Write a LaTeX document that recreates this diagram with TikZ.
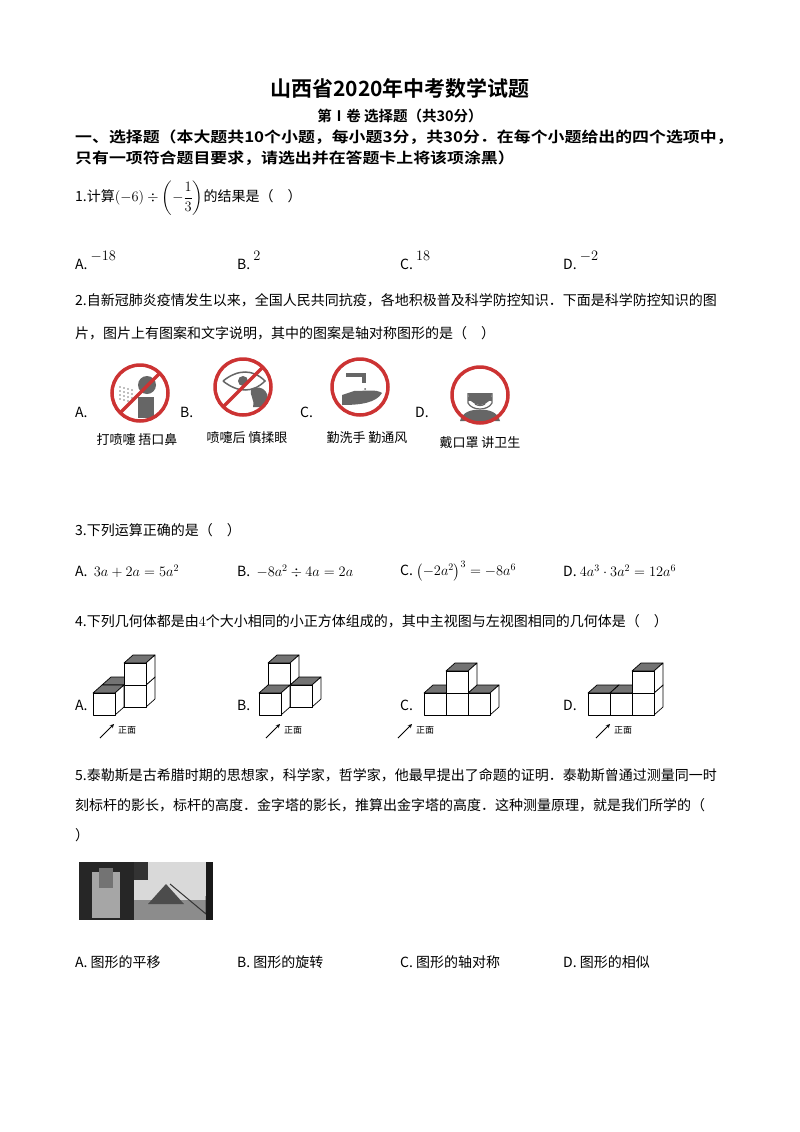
\documentclass[tikz,border=0pt]{standalone}
\usepackage{amsmath}
\usepackage{graphicx}
\usepackage{fontspec}
\setmainfont{Noto Sans CJK SC}
\newfontfamily\cjkb{Noto Sans CJK SC Bold}
\tikzset{
  txt/.style={anchor=west,inner sep=0pt,font=\fontsize{14}{16}\selectfont},
  hd/.style={anchor=west,inner sep=0pt,font=\cjkb\fontsize{14.7}{16}\selectfont},
  lab/.style={inner sep=0pt,font=\fontsize{13}{15}\selectfont},
  sign/.style={draw=red!75!black!80,line width=3.5pt},
  sil/.style={fill=black!60,draw=none},
  cb/.style={draw=black,line width=0.7pt,line join=round}
}
\newcommand{\mycube}[5]{% ox oy col depth level
  \pgfmathsetmacro{\bx}{#1+#3*22+#4*9}
  \pgfmathsetmacro{\by}{#2-#5*22-#4*8}
  \draw[cb,fill=black!55] (\bx,\by-22) -- ++(9,-8) -- ++(22,0) -- ++(-9,8) -- cycle;
  \draw[cb,fill=white] (\bx+22,\by) -- ++(9,-8) -- ++(0,-22) -- ++(-9,8) -- cycle;
  \draw[cb,fill=white] (\bx,\by) rectangle ++(22,-22);
}
\newcommand{\zm}[2]{% arrow + label
  \draw[-stealth,line width=0.8pt] (#1,#2) -- ++(14,-14);
  \node[lab,font=\fontsize{9}{10}\selectfont,anchor=west] at (#1+18,#2-8) {正面};
}
\begin{document}
\begin{tikzpicture}[x=1pt,y=-1pt]
\fill[white] (0,0) rectangle (800,1132);
\useasboundingbox (0,0) rectangle (800,1132);
\node[inner sep=0pt,font=\cjkb\fontsize{21}{23}\selectfont] (title) at (400,88) {山西省2020年中考数学试题};
\node[inner sep=0pt,font=\cjkb\fontsize{14.5}{16}\selectfont] (sub) at (400,116) {第Ⅰ卷\ 选择题（共30分）};
\node[hd] (h1) at (75,137) {\scalebox{1.15}[1]{一、选择题（本大题共10个小题，每小题3分，共30分．在每个小题给出的四个选项中，}};
\node[hd] (h2) at (75,158) {\scalebox{1.15}[1]{只有一项符合题目要求，请选出并在答题卡上将该项涂黑）}};
% Q1
\node[txt] (q1) at (75,198) {1.计算$(-6)\div\left(-\dfrac{1}{3}\right)$的结果是（\quad）};
\node[txt] (q1a) at (75,260) {A. \raisebox{9pt}{$-18$}};
\node[txt] (q1b) at (237,260) {B. \raisebox{9pt}{$2$}};
\node[txt] (q1c) at (400,260) {C. \raisebox{9pt}{$18$}};
\node[txt] (q1d) at (563,260) {D. \raisebox{9pt}{$-2$}};
% Q2
\node[txt] (q2a) at (75,300) {2.自新冠肺炎疫情发生以来，全国人民共同抗疫，各地积极普及科学防控知识．下面是科学防控知识的图};
\node[txt] (q2b) at (75,333) {片，图片上有图案和文字说明，其中的图案是轴对称图形的是（\quad）};
\node[txt] (la) at (75,412) {A.};
\node[txt] (lb) at (180,412) {B.};
\node[txt] (lc) at (300,412) {C.};
\node[txt] (ld) at (415,412) {D.};
% icon A
\begin{scope}[shift={(140,393)}]
 \fill[sil] (7,-8) circle (9);
 \fill[sil] (-2,4) rectangle (14,25) ;
 \foreach \i in {0,...,3}{\foreach \j in {0,...,3}{\fill[black!50] (-20+\i*4,-6+\j*4+\i) circle (0.8);}}
 \draw[sign] (0,0) circle (28);
 \draw[sign] (-20,20) -- (20,-20);
\end{scope}
\node[lab] (ta) at (137,440) {打喷嚏\ 捂口鼻};
% icon B
\begin{scope}[shift={(243,387)}]
 \draw[black!60,line width=1.5pt] (-20,-6) .. controls (-5,-18) and (10,-18) .. (22,-6) .. controls (10,6) and (-5,6) .. (-20,-6);
 \fill[sil] (0,-6) circle (5);
 \fill[sil] (8,2) .. controls (20,-4) and (30,8) .. (22,20) -- (10,20) .. controls (12,12) and (6,8) .. (8,2);
 \draw[sign] (0,0) circle (28);
 \draw[sign] (-20,20) -- (20,-20);
\end{scope}
\node[lab] (tb) at (247,438) {喷嚏后\ 慎揉眼};
% icon C
\begin{scope}[shift={(360,387)}]
 \draw[black!60,line width=4pt] (-14,-12) -- (4,-12) -- (4,-4);
 \fill[black!60] (5,2) circle (1);
 \fill[sil] (-18,8) -- (-6,4) .. controls (6,4) and (16,2) .. (22,6) .. controls (16,16) and (0,18) .. (-18,18) -- cycle;
 \draw[sign] (0,0) circle (28);
\end{scope}
\node[lab] (tc) at (367,438) {勤洗手\ 勤通风};
% icon D
\begin{scope}[shift={(480,395)}]
 \fill[sil] (-12,-2) arc (180:0:12) -- cycle;
 \draw[black!60,line width=1.2pt] (-12,-2) -- (-12,8) .. controls (-8,16) and (8,16) .. (12,8) -- (12,-2);
 \fill[black!60] (-12,2) rectangle (12,6);
 \draw[black!60,line width=1.2pt] (-5,9) .. controls (-2,11) and (2,11) .. (5,9);
 \fill[sil] (-20,26) .. controls (-18,17) and (-8,14) .. (0,15) .. controls (8,14) and (18,17) .. (20,26) -- cycle;
 \draw[sign] (0,0) circle (28);
\end{scope}
\node[lab] (td) at (480,443) {戴口罩\ 讲卫生};
% Q3
\node[txt] (q3) at (75,530) {3.下列运算正确的是（\quad）};
\node[txt] (q3a) at (75,571) {A.\ \ $3a+2a=5a^2$};
\node[txt] (q3b) at (237,571) {B.\ \ $-8a^2\div 4a=2a$};
\node[txt] (q3c) at (400,571) {C.\ $\left(-2a^2\right)^3=-8a^6$};
\node[txt] (q3d) at (563,571) {D.\ $4a^3\cdot 3a^2=12a^6$};
% Q4
\node[txt] (q4) at (75,621) {4.下列几何体都是由$4$个大小相同的小正方体组成的，其中主视图与左视图相同的几何体是（\quad）};
\node[txt] (c4a) at (75,705) {A.};
\node[txt] (c4b) at (237,705) {B.};
\node[txt] (c4c) at (400,705) {C.};
\node[txt] (c4d) at (563,705) {D.};
\mycube{93}{715}{0}{1}{0}
\mycube{93}{715}{1}{1}{0}
\mycube{93}{715}{1}{1}{1}
\mycube{93}{715}{0}{0}{0}
\zm{100}{738}
\mycube{259}{715}{0}{1}{0}
\mycube{259}{715}{1}{1}{0}
\mycube{259}{715}{0}{1}{1}
\mycube{259}{715}{0}{0}{0}
\zm{266}{738}
\mycube{424}{715}{0}{0}{0}
\mycube{424}{715}{1}{0}{0}
\mycube{424}{715}{2}{0}{0}
\mycube{424}{715}{1}{0}{1}
\zm{398}{738}
\mycube{588}{715}{0}{0}{0}
\mycube{588}{715}{1}{0}{0}
\mycube{588}{715}{2}{0}{0}
\mycube{588}{715}{2}{0}{1}
\zm{596}{738}
% Q5
\node[txt] (q5a) at (75,775) {5.泰勒斯是古希腊时期的思想家，科学家，哲学家，他最早提出了命题的证明．泰勒斯曾通过测量同一时};
\node[txt] (q5b) at (75,805) {刻标杆的影长，标杆的高度．金字塔的影长，推算出金字塔的高度．这种测量原理，就是我们所学的（};
\node[txt] (q5c) at (75,835) {）};
\fill[black!85] (79,862) rectangle (134,920);
\fill[black!35] (92,872) rectangle (120,918);
\fill[black!55] (99,868) rectangle (113,888);
\fill[black!15] (134,862) rectangle (213,920);
\fill[black!80] (134,862) rectangle (148,880);
\fill[black!45] (134,900) rectangle (213,920);
\fill[black!70] (148,904) -- (166,884) -- (184,904) -- cycle;
\draw[black!80,line width=1pt] (170,884) -- (206,914) -- (206,896);
\fill[black!90] (206,862) rectangle (213,920);
\node[txt] (q5o1) at (75,962) {A. 图形的平移};
\node[txt] (q5o2) at (237,962) {B. 图形的旋转};
\node[txt] (q5o3) at (400,962) {C. 图形的轴对称};
\node[txt] (q5o4) at (563,962) {D. 图形的相似};
\end{tikzpicture}
\end{document}
